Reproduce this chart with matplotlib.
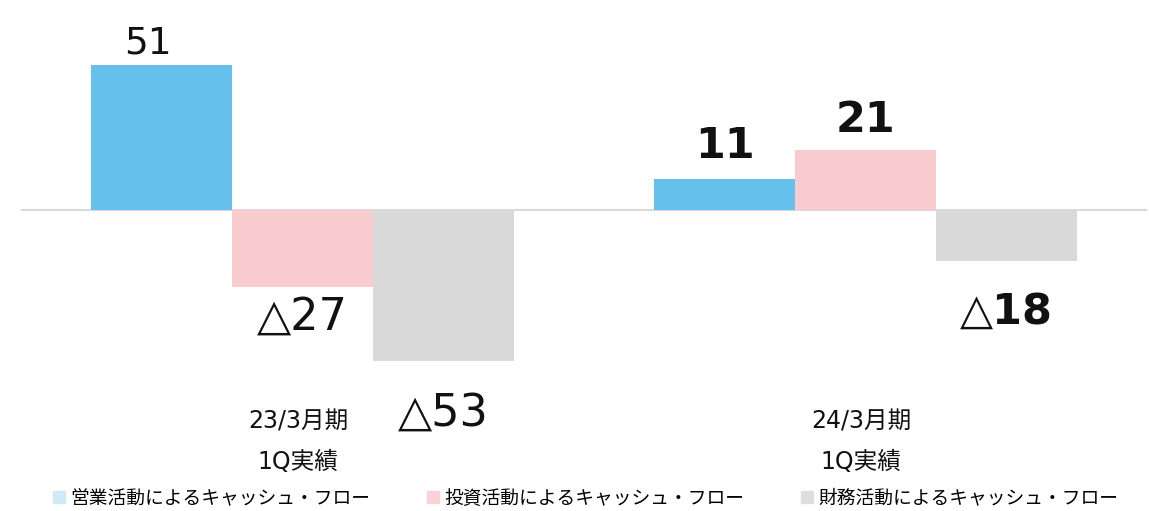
import numpy as np
import matplotlib
matplotlib.use("Agg")
import matplotlib.pyplot as plt
from matplotlib.patches import Patch

plt.rcParams["font.family"] = ["DejaVu Sans", "Noto Sans CJK JP"]

# Données (億円)
periods = ["23/3月期\n1Q実績", "24/3月期\n1Q実績"]
series_names = ["営業活動によるキャッシュ・フロー",
                "投資活動によるキャッシュ・フロー",
                "財務活動によるキャッシュ・フロー"]
operating = [51, 11]
investing = [-27, 21]
financing = [-53, -18]

bar_colors = ["#65c1ec", "#f8cbcf", "#d9d9d9"]
legend_colors = ["#cfe9f8", "#f8d2d6", "#dedede"]

# décalages (pixels) et tailles des étiquettes par série et période
label_offsets = [[(-14, 21), (0, 33)], [(0, -30), (0, 30)], [(0, -52), (0, -51)]]
label_sizes = [[27, 31], [32, 31], [32, 31]]


def fmt(v):
    return f"{v}" if v >= 0 else f"△{abs(v)}"


fig = plt.figure(figsize=(11.49, 5.11), dpi=100)
ax = fig.add_axes([21 / 1149, 111 / 511, 1126 / 1149, 380 / 511])

x = np.arange(len(periods))
width = 0.25
all_series = [operating, investing, financing]

for i, vals in enumerate(all_series):
    pos = x + (i - 1) * width
    ax.bar(pos, vals, width=width, color=bar_colors[i], zorder=2)
    for j, (px, v) in enumerate(zip(pos, vals)):
        dx, dy = label_offsets[i][j]
        ax.annotate(fmt(v), xy=(px, v), xytext=(dx * 0.72, dy * 0.72),
                    textcoords="offset points", ha="center", va="center",
                    fontsize=label_sizes[i][j],
                    fontweight="bold" if j == 1 else "normal",
                    annotation_clip=False, color="#111111")

ax.axhline(0, color="#d9d9d9", lw=1.5, zorder=1)
ax.set_xlim(-0.5, 1.5)
ax.set_ylim(-66.8, 66.8)
ax.axis("off")

for j, lab in enumerate(periods):
    ax.annotate(lab, xy=(x[j], -66.8), xytext=(-3, -30),
                textcoords="offset points", ha="center", va="center",
                fontsize=17, linespacing=1.85, annotation_clip=False,
                color="#111111")

handles = [Patch(color=c) for c in legend_colors]
fig.legend(handles, series_names, loc="center", bbox_to_anchor=(0.5096, 1 - 498 / 511),
           ncol=3, frameon=False, handlelength=0.65, handleheight=0.65,
           handletextpad=0.3, columnspacing=3.0,
           prop={"family": "Noto Sans CJK JP", "size": 13.5})

fig.savefig("out.png", dpi=100)
